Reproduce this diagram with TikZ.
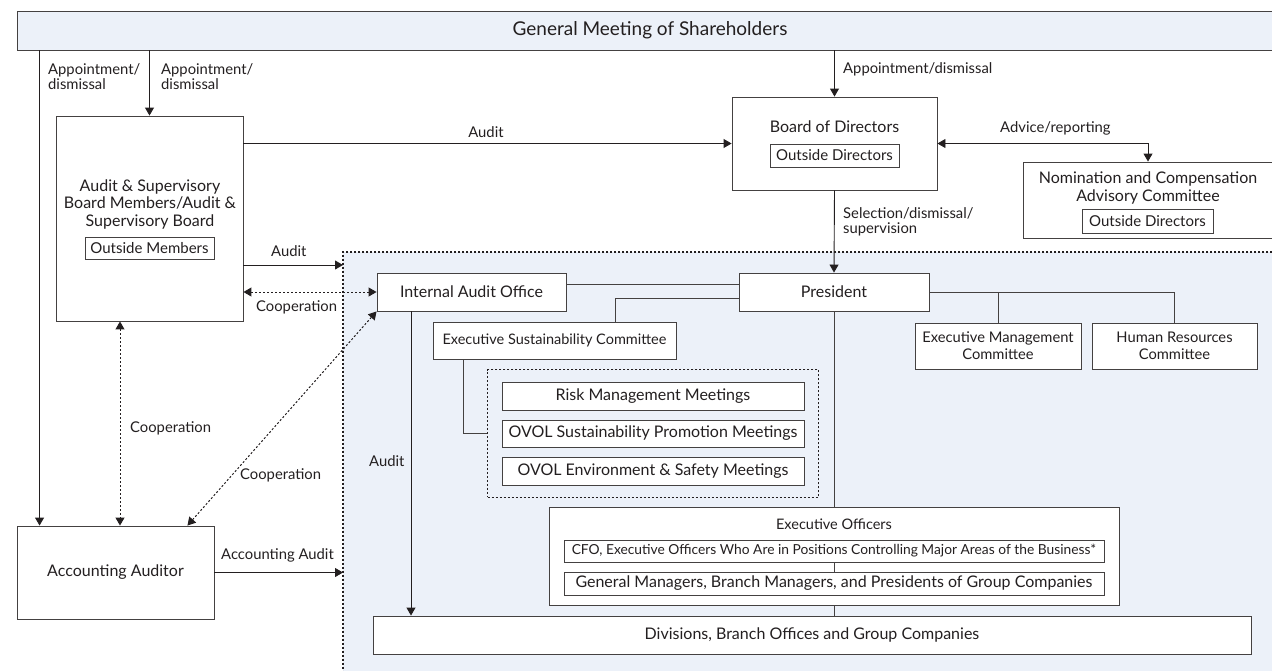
\documentclass[tikz,border=0pt]{standalone}
\usepackage{fontspec}
\setmainfont{Lato}
\usepackage{tikz}
\usetikzlibrary{arrows.meta,positioning,calc,fit,backgrounds}
\definecolor{ovolblue}{RGB}{236,241,249}
\definecolor{ink}{RGB}{35,31,32}

\begin{document}
\begin{tikzpicture}[
  x=1pt, y=-1pt,
  font=\fontsize{16}{17.5}\selectfont, text=ink,
  box/.style={draw=ink!85, line width=0.9pt, fill=white, inner sep=0pt, align=center},
  sub/.style={box, line width=0.7pt, font=\fontsize{15}{17}\selectfont},
  txt/.style={inner sep=0pt, align=center},
  lbl/.style={font=\fontsize{14.8}{15.5}\selectfont, align=left, inner sep=0pt, anchor=north west},
  arr/.style={-{Triangle[length=8pt,width=9pt]}, line width=0.9pt, draw=ink},
  biarr/.style={{Triangle[length=8pt,width=9pt]}-{Triangle[length=8pt,width=9pt]}, line width=0.9pt, draw=ink},
  link/.style={line width=0.9pt, draw=ink!85},
  coop/.style={biarr, line width=1pt, dash pattern=on 2pt off 2pt},
  zone/.style={draw=ink, line width=1.1pt, dash pattern=on 2pt off 2pt}
]
\useasboundingbox (0,0) rectangle (1272,670);

\node[fill=ovolblue, minimum width=937pt, minimum height=428pt, inner sep=0pt, anchor=north west] (grp) at (343,252) {};
\draw[zone] (grp.north east) -- (grp.north west) -- (grp.south west);

\node[box, fill=ovolblue, minimum width=1263pt, minimum height=39pt] (gm) at (648.5,30.5) {};
\node[txt, font=\fontsize{19}{21}\selectfont] (gmt) at (650,30) {General Meeting of Shareholders};

\node[box, minimum width=187pt, minimum height=205pt] (asb) at (149.5,218.5) {};
\node[txt] (asbt) at (150,204) {Audit \& Supervisory\\Board Members/Audit \&\\Supervisory Board};
\node[sub, minimum width=129pt, minimum height=22pt] (asbo) at (149.5,248) {Outside Members};

\node[box, minimum width=197pt, minimum height=93pt] (acc) at (115.5,572.5) {Accounting Auditor};

\node[box, minimum width=205pt, minimum height=93pt] (bod) at (834.5,143.5) {};
\node[txt] (bodt) at (834.5,127) {Board of Directors};
\node[sub, minimum width=129pt, minimum height=23pt] (bodo) at (834.5,155.5) {Outside Directors};

\node[box, minimum width=250pt, minimum height=76pt] (ncac) at (1148,200) {};
\node[txt, font=\fontsize{16}{18}\selectfont] (ncact) at (1148,188) {Nomination and Compensation\\Advisory Committee};
\node[sub, minimum width=131pt, minimum height=24pt] (ncaco) at (1147.5,221) {Outside Directors};

\node[box, minimum width=189pt, minimum height=38pt] (iao) at (471.5,292) {Internal Audit Office};
\node[box, minimum width=190pt, minimum height=38pt] (pres) at (834,292) {President};
\node[box, minimum width=243pt, minimum height=37pt, font=\fontsize{14.5}{17}\selectfont] (esc) at (554.5,340.5) {Executive Sustainability Committee};
\node[box, minimum width=302pt, minimum height=28pt] (risk) at (653,396) {Risk Management Meetings};
\node[box, minimum width=302pt, minimum height=27pt] (osp) at (653,433.5) {OVOL Sustainability Promotion Meetings};
\node[box, minimum width=302pt, minimum height=28pt] (oes) at (653,471) {OVOL Environment \& Safety Meetings};
\node[zone, fit=(risk)(osp)(oes), inner xsep=14pt, inner ysep=12pt] (meet) {};
\node[box, minimum width=166pt, minimum height=46pt, font=\fontsize{14.7}{17}\selectfont] (emc) at (998,346) {Executive Management\\Committee};
\node[box, minimum width=165pt, minimum height=46pt, font=\fontsize{14.7}{17}\selectfont] (hrc) at (1174.5,346) {Human Resources\\Committee};

\node[box, minimum width=570pt, minimum height=98pt] (eo) at (834,556) {};
\node[txt, font=\fontsize{14.5}{17}\selectfont] (eot) at (834,524) {Executive Officers};
\node[sub, minimum width=540pt, minimum height=22pt, font=\fontsize{13.8}{16}\selectfont] (cfo) at (834,551) {CFO, Executive Officers Who Are in Positions Controlling Major Areas of the Business*};
\node[sub, minimum width=540pt, minimum height=23pt, font=\fontsize{16}{17}\selectfont] (gmb) at (834,583.5) {General Managers, Branch Managers, and Presidents of Group Companies};
\node[box, minimum width=878pt, minimum height=38pt] (div) at (812,635) {Divisions, Branch Offices and Group Companies};

\draw[arr] ([xshift=23pt]acc.north west |- gm.south) -- ([xshift=23pt]acc.north west);
\draw[arr] (asb.north |- gm.south) -- (asb.north);
\draw[arr] (bod.north |- gm.south) -- (bod.north);
\draw[arr] (bod.west -| asb.east) -- (bod.west);
\draw[arr] ([yshift=-46.5pt]asb.east) -- ([yshift=-46.5pt]asb.east -| grp.west);
\draw[coop] (iao.west -| asb.east) -- (iao.west);
\draw[coop] ([xshift=-29.5pt]asb.south) -- ([xshift=-29.5pt]asb.south |- acc.north);
\draw[coop] ([xshift=-27pt]acc.north east) -- (iao.south west);
\draw[arr] (acc.east) -- (acc.east -| grp.west);
\draw[arr] ([xshift=-60.5pt]iao.south) -- ([xshift=-60.5pt]iao.south |- div.north);
\draw[arr] (bod.south) -- (pres.north);
\draw[biarr] (bod.east) -| (ncac.north);
\draw[link] ([yshift=8pt]iao.east) -- ([yshift=8pt]pres.west);
\draw[link] ([yshift=-6pt]pres.west) -| ([xshift=60.5pt]esc.north);
\draw[link] ([xshift=-91.5pt]esc.south) |- (meet.west);
\draw[link] (pres.east) -| (emc.north);
\draw[link] (pres.east) -| (hrc.north);
\draw[link] (pres.south) -- (eo.north);
\draw[link] (cfo.south) -- (gmb.north);
\draw[link] (eo.south) -- (div.north -| eo.south);

\node[lbl] (l1) at (48,63) {Appointment/\\dismissal};
\node[lbl] (l2) at (161,63) {Appointment/\\dismissal};
\node[lbl] (l3) at (843,62) {Appointment/dismissal};
\node[lbl, anchor=south] (l4) at (486,138) {Audit};
\node[lbl] (l5) at (1000,121) {Advice/reporting};
\node[lbl] (l6) at (843,207) {Selection/dismissal/\\supervision};
\node[lbl] (l7) at (271,245) {Audit};
\node[lbl] (l8) at (256,300) {Cooperation};
\node[lbl] (l9) at (130,421) {Cooperation};
\node[lbl] (l10) at (240,468) {Cooperation};
\node[lbl] (l11) at (221,548) {Accounting Audit};
\node[lbl] (l12) at (369,455) {Audit};
\end{tikzpicture}
\end{document}
